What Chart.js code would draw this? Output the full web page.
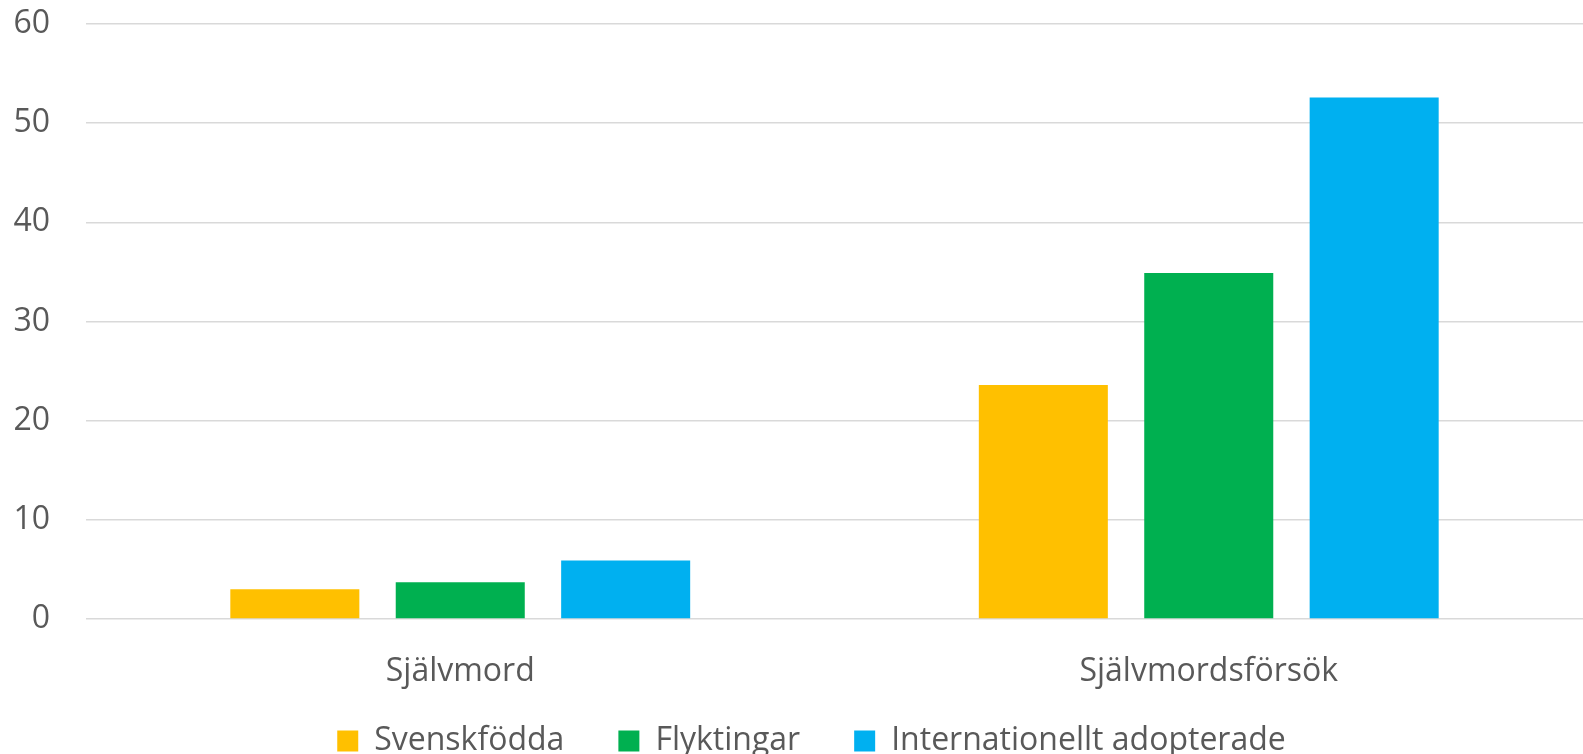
<!DOCTYPE html>
<html>
<head>
<meta charset="utf-8">
<script src="https://cdn.jsdelivr.net/npm/chart.js@4/dist/chart.umd.min.js"></script>
<style>
  html, body { margin: 0; padding: 0; background: #fff; }
  #wrap { width: 1583px; height: 754px; position: relative; }
</style>
</head>
<body>
<div id="wrap"><canvas id="c"></canvas></div>
<script>
// Självmord / självmordsförsök per grupp
const kategorier = ['Självmord', 'Självmordsförsök'];
const svenskfodda = [3.0, 23.6];
const flyktingar = [3.7, 34.9];
const adopterade = [5.9, 52.6];
const yTicks = [0, 10, 20, 30, 40, 50, 60];

const FONT = "'Open Sans', 'DejaVu Sans', sans-serif";
const GRAY = '#595959';

new Chart(document.getElementById('c'), {
  type: 'bar',
  data: {
    labels: kategorier,
    datasets: [
      { label: 'Svenskfödda', data: svenskfodda, backgroundColor: '#ffc000' },
      { label: 'Flyktingar', data: flyktingar, backgroundColor: '#00b050' },
      { label: 'Internationellt adopterade', data: adopterade, backgroundColor: '#00b0f0' }
    ]
  },
  options: {
    responsive: true,
    maintainAspectRatio: false,
    animation: false,
    datasets: { bar: { categoryPercentage: 0.663, barPercentage: 0.78 } },
    // vänstermarginalen flyttar legenden lite åt höger
    layout: { padding: { left: 40, top: 0, right: 0, bottom: 0 } },
    plugins: {
      tooltip: { enabled: false },
      legend: {
        position: 'bottom',
        maxHeight: 83,
        labels: {
          color: GRAY,
          font: { family: FONT, size: 32 },
          boxWidth: 21,
          boxHeight: 21,
          padding: 54
        }
      }
    },
    scales: {
      x: {
        grid: { display: false },
        border: { display: false },
        ticks: { color: GRAY, font: { family: FONT, size: 32 }, padding: 26 },
        afterFit: ax => {
          ax.height = 52;
          // etiketterna får gå under axelns ruta (legenden ligger tätt under)
          ax._computeLabelArea = () => undefined;
        }
      },
      y: {
        min: 0,
        max: 60,
        afterBuildTicks: ax => { ax.ticks = yTicks.map(v => ({ value: v })); },
        afterFit: ax => {
          ax.width = 46;
          ax.paddingTop = 24;
          ax.paddingBottom = 10;
          ax._computeLabelArea = () => undefined;
        },
        grid: { color: '#d9d9d9', lineWidth: 1.5, drawTicks: false },
        border: { display: false },
        ticks: { color: GRAY, font: { family: FONT, size: 32 }, padding: 36 }
      }
    }
  }
});
</script>
</body>
</html>
